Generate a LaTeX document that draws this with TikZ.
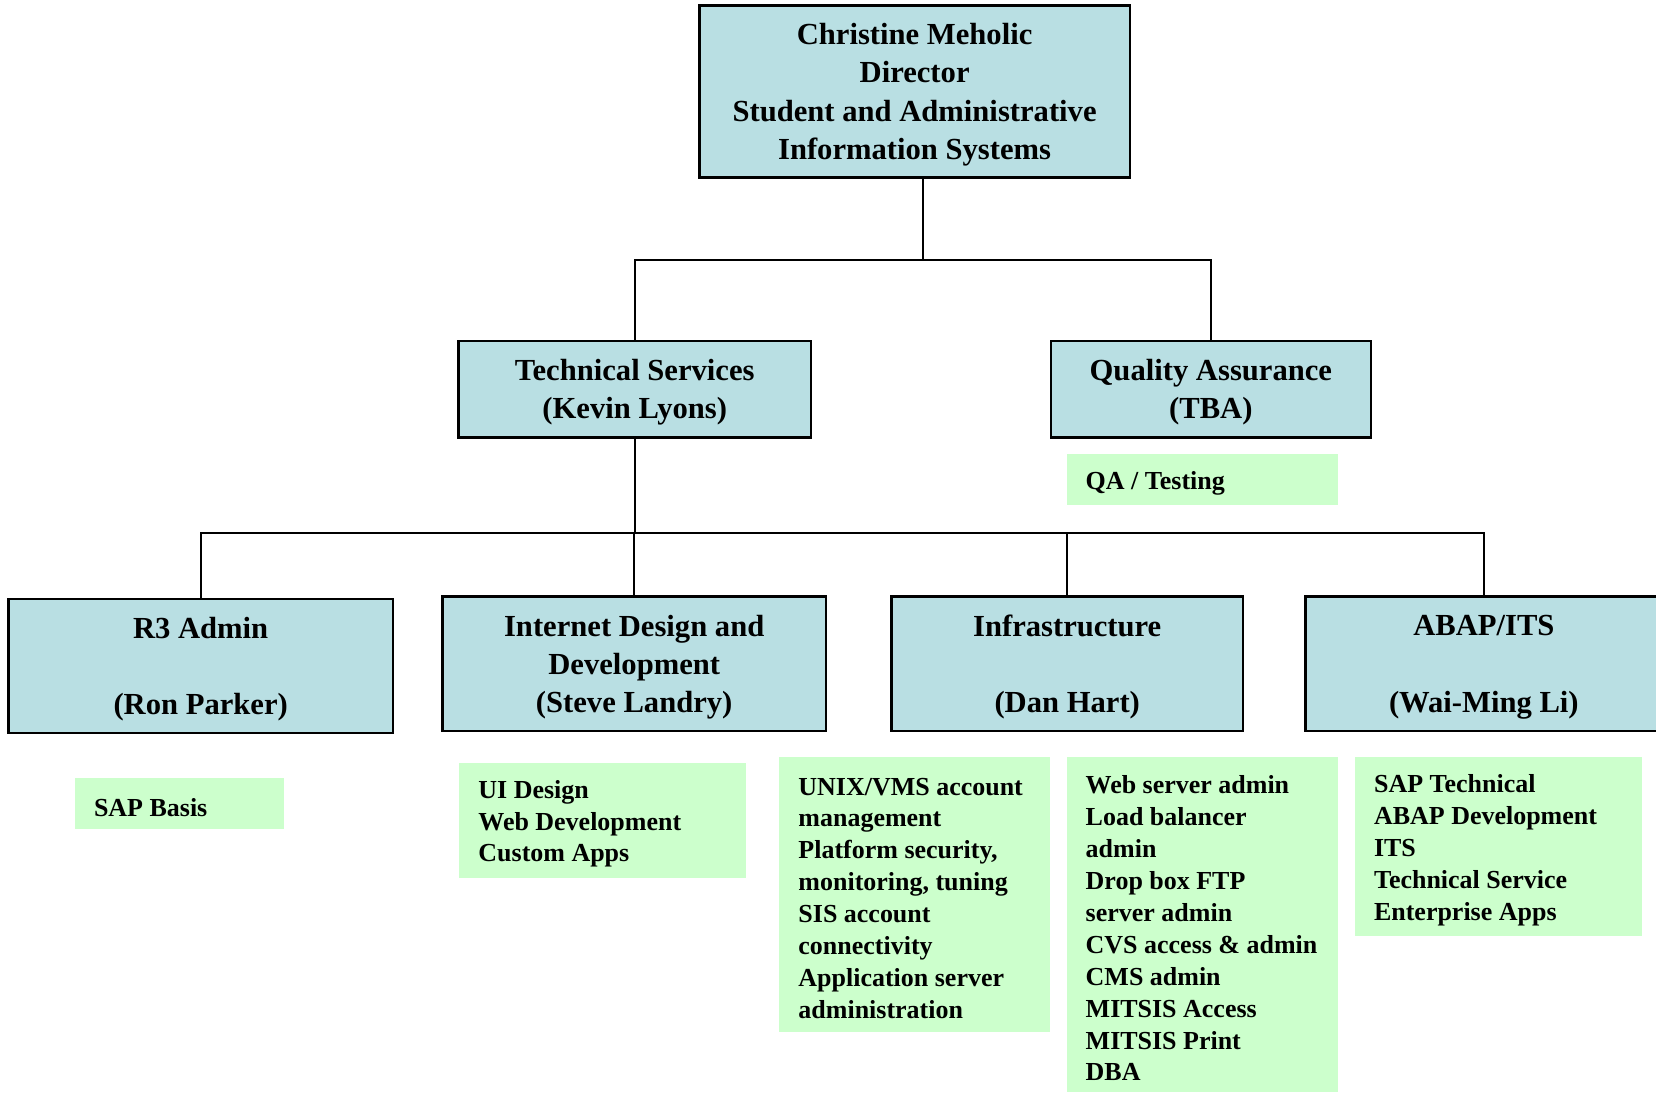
\documentclass[tikz,border=0pt]{standalone}
\usepackage{fontspec}
\setmainfont{Liberation Serif}
\usepackage{xcolor}
\usepackage{tikz}
\usetikzlibrary{positioning}
\definecolor{unitblue}{RGB}{185,223,227}
\definecolor{dutygreen}{RGB}{204,255,204}
\tikzset{
    unitbox/.style={draw, line width=1.4pt, fill=unitblue, align=center, inner sep=0pt,
        font=\bfseries\fontsize{16.5}{20.6}\selectfont, text depth=-5pt},
    dutybox/.style={fill=dutygreen, inner sep=0pt},
    dutytext/.style={align=left, inner sep=0pt, yshift=-0.07cm, font=\bfseries\fontsize{14}{17.2}\selectfont},
    link/.style={line width=1pt}
}

\begin{document}
\begin{tikzpicture}[x=0.02cm, y=-0.02cm]
    \useasboundingbox (0,0) rectangle (1568,1035);
    % Director
    \node[unitbox, minimum width=8.16cm, minimum height=3.26cm] (director) at (866,86.5) {Christine Meholic\\Director\\Student and Administrative\\Information Systems};
    % Second level
    \node[unitbox, minimum width=6.68cm, minimum height=1.82cm] (tech) at (601,368.5) {Technical Services\\(Kevin Lyons)};
    \node[unitbox, minimum width=6.06cm, minimum height=1.82cm] (qa) at (1146.5,368.5) {Quality Assurance\\(TBA)};
    % Teams
    \node[unitbox, minimum width=7.28cm, minimum height=2.54cm] (rthree) at (190,630.5) {R3 Admin\\[20.6pt](Ron Parker)};
    \node[unitbox, minimum width=7.26cm, minimum height=2.54cm] (idd) at (600.5,628.5) {Internet Design and\\Development\\(Steve Landry)};
    \node[unitbox, minimum width=6.66cm, minimum height=2.54cm] (infra) at (1010.5,628.5) {Infrastructure\\[20.6pt](Dan Hart)};
    \node[unitbox, minimum width=6.76cm, minimum height=2.54cm] (abap) at (1405,628.5) {ABAP/ITS\\[20.6pt](Wai-Ming Li)};
    % Duties
    \node[dutybox, minimum width=5.14cm, minimum height=0.96cm] (qaduty) at (1138.5,454) {};
    \node[dutytext, right=0.36cm of qaduty.west] (qatext) {QA / Testing};
    \node[dutybox, minimum width=3.96cm, minimum height=0.96cm] (basis) at (170,761) {};
    \node[dutytext, right=0.36cm of basis.west] (basistext) {SAP Basis};
    \node[dutybox, minimum width=5.42cm, minimum height=2.18cm] (iddduty) at (570.5,776.5) {};
    \node[dutytext, right=0.36cm of iddduty.west] (iddtext) {UI Design\\Web Development\\Custom Apps};
    \node[dutybox, minimum width=5.12cm, minimum height=5.2cm] (infraduty) at (866,847) {};
    \node[dutytext, right=0.36cm of infraduty.west] (infratext) {UNIX/VMS account\\management\\Platform security,\\monitoring, tuning\\SIS account\\connectivity\\Application server\\administration};
    \node[dutybox, minimum width=5.14cm, minimum height=6.34cm] (webduty) at (1138.5,875.5) {};
    \node[dutytext, right=0.36cm of webduty.west] (webtext) {Web server admin\\Load balancer\\admin\\Drop box FTP\\server admin\\CVS access \& admin\\CMS admin\\MITSIS Access\\MITSIS Print\\DBA};
    \node[dutybox, minimum width=5.44cm, minimum height=3.38cm] (abapduty) at (1419,801.5) {};
    \node[dutytext, right=0.36cm of abapduty.west] (abaptext) {SAP Technical\\ABAP Development\\ITS\\Technical Service\\Enterprise Apps};
    % Connectors
    \coordinate (split) at (874,246);
    \coordinate (bus) at (601,505);
    \draw[link] (director.south -| split) -- (split);
    \draw[link] (tech.north) |- (split) -| (qa.north);
    \draw[link] (tech.south) -- (bus);
    \foreach \team in {rthree, idd, infra, abap}
        \draw[link] (bus) -| (\team.north);
\end{tikzpicture}
\end{document}
